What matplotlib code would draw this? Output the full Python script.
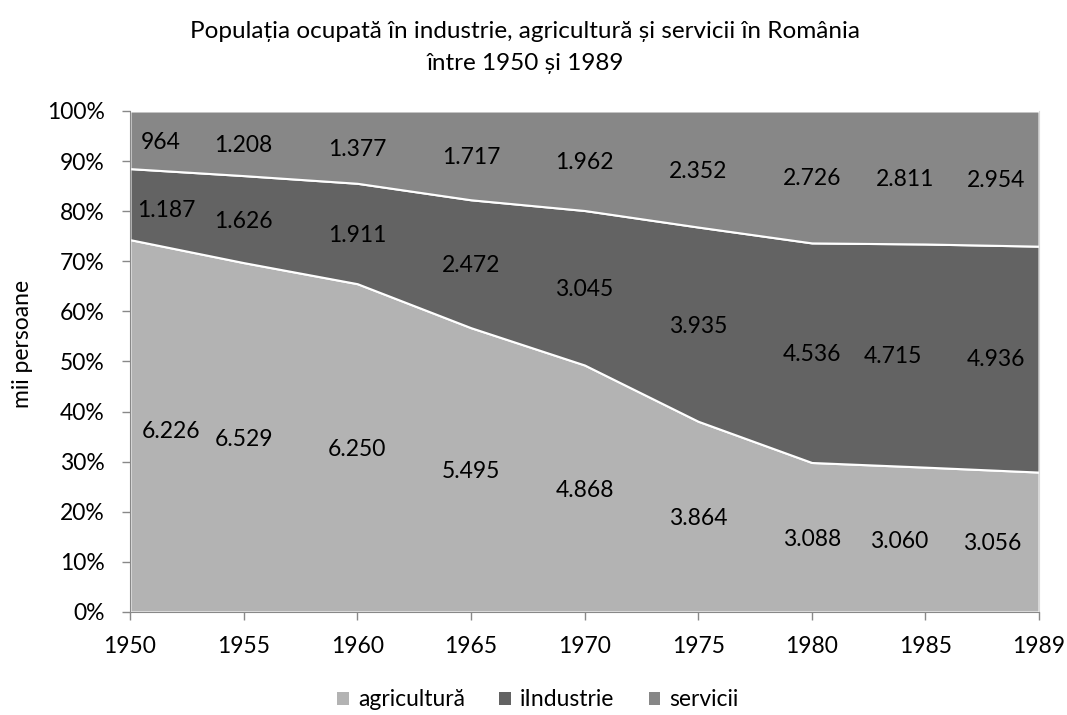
import matplotlib
matplotlib.use("Agg")
import matplotlib.pyplot as plt
import numpy as np
from matplotlib.patches import Patch

years = ["1950", "1955", "1960", "1965", "1970", "1975", "1980", "1985", "1989"]
agricultura = [6226, 6529, 6250, 5495, 4868, 3864, 3088, 3060, 3056]
industrie = [1187, 1626, 1911, 2472, 3045, 3935, 4536, 4715, 4936]
servicii = [964, 1208, 1377, 1717, 1962, 2352, 2726, 2811, 2954]
series_names = ["agricultură", "iIndustrie", "servicii"]
colors = ["#B3B3B3", "#636363", "#878787"]

# horizontal nudges of data labels (in category units), per series, layout only
label_dx = [
    [0.36, 0, 0, 0, 0, 0, 0, -0.23, -0.41],
    [0.32, 0, 0, 0, 0, 0, 0, -0.29, -0.38],
    [0.27, 0, 0, 0, 0, 0, 0, -0.18, -0.38],
]

plt.rcParams['font.family'] = ['Lato', 'DejaVu Sans']
FS = 16.5

fig = plt.figure(figsize=(10.67, 7.15), dpi=100)
ax = fig.add_axes([0.1218, 0.1441, 0.852, 0.7007])

data = np.array([agricultura, industrie, servicii], dtype=float)
shares = data / data.sum(axis=0) * 100
x = np.arange(len(years))
ax.stackplot(x, shares, colors=colors, edgecolor="white", linewidth=1.5)

cum = np.cumsum(shares, axis=0)
lower = np.vstack([np.zeros(len(years)), cum[:-1]])

def fmt(v):
    return f"{v:,}".replace(",", ".")

n = len(years)
for s in range(3):
    for i in range(n):
        xi = i + label_dx[s][i]
        lo = np.interp(xi, x, lower[s])
        hi = np.interp(xi, x, cum[s])
        ax.text(xi, (lo + hi) / 2 - 0.4, fmt(int(data[s, i])), ha="center", va="center",
                fontsize=FS, color="black")

ax.set_xlim(0, n - 1)
ax.set_ylim(0, 100)
ax.set_xticks(x)
ax.set_xticklabels(years)
ax.set_yticks(np.arange(0, 101, 10))
ax.set_yticklabels([f"{v}%" for v in range(0, 101, 10)])
ax.tick_params(axis="both", labelsize=FS, colors="#888888", labelcolor="black", length=6, width=1)
ax.tick_params(axis="x", pad=11)
ax.tick_params(axis="y", pad=12)
ax.spines["top"].set_visible(False)
for side in ["left", "bottom"]:
    ax.spines[side].set_color("#888888")
ax.spines["right"].set_color("#d9d9d9")
ax.set_ylabel("mii persoane", fontsize=FS)
ax.yaxis.set_label_coords(-0.107, 0.535)

fig.text(0.492, 1 - 38 / 715, "Populația ocupată în industrie, agricultură și servicii în România",
         ha="center", va="baseline", fontsize=17.5)
fig.text(0.492, 1 - 70 / 715, "între 1950 și 1989",
         ha="center", va="baseline", fontsize=17.5)

handles = [Patch(facecolor=c, edgecolor="none") for c in colors]
fig.legend(handles, series_names, loc="center", bbox_to_anchor=(538 / 1067, 1 - 700 / 715), ncol=3,
           frameon=False, fontsize=FS, handlelength=0.5, handleheight=0.5, handletextpad=0.4,
           columnspacing=1.5, borderpad=0)

fig.savefig("out.png", dpi=100)
